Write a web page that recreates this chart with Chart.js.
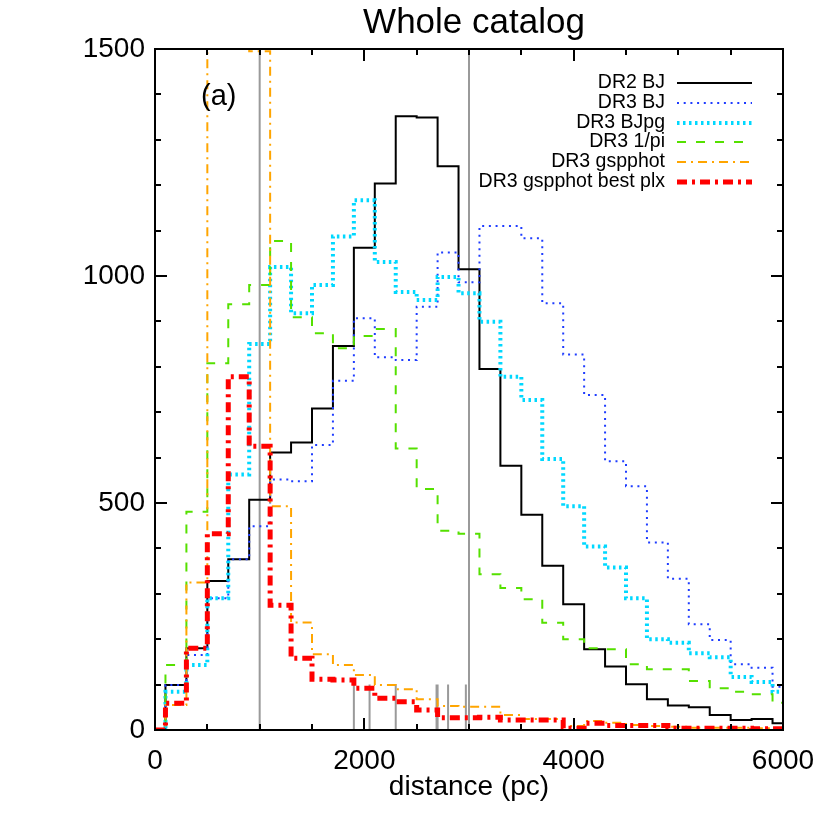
<!DOCTYPE html>
<html>
<head>
<meta charset="utf-8">
<title>Whole catalog</title>
<script src="https://cdn.jsdelivr.net/npm/chart.js@4/dist/chart.umd.min.js"></script>
<style>
  html, body { margin: 0; padding: 0; background: #fff; }
  #wrap { width: 830px; height: 830px; }
</style>
</head>
<body>
<div id="wrap"><canvas id="chart" width="830" height="830"></canvas></div>
<script>
// bin centres (pc), 200 pc wide bins
const binCenters = [0, 200, 400, 600, 800, 1000, 1200, 1400, 1600, 1800, 2000,
    2200, 2400, 2600, 2800, 3000, 3200, 3400, 3600, 3800, 4000,
    4200, 4400, 4600, 4800, 5000, 5200, 5400, 5600, 5800, 6000];

const dr2BJ = [0, 99, 180, 328, 376, 507, 611, 633, 708, 846, 1062,
    1204, 1352, 1349, 1242, 1015, 795, 582, 474, 362, 277,
    178, 140, 101, 68, 54, 50, 33, 22, 24, 15];

const dr3BJ = [0, 99, 165, 290, 376, 449, 552, 548, 628, 769, 907,
    821, 815, 932, 1052, 986, 1110, 1110, 1083, 940, 827,
    738, 592, 537, 413, 333, 233, 198, 145, 137, 95];

const dr3BJpg = [0, 84, 143, 290, 563, 850, 1020, 918, 980, 1087, 1167,
    1031, 965, 947, 998, 962, 899, 778, 727, 597, 493,
    404, 358, 290, 200, 192, 169, 160, 117, 106, 84];

const dr3InvPi = [0, 143, 481, 808, 938, 980, 1077, 909, 874, 841, 868,
    883, 620, 531, 439, 432, 343, 313, 288, 236, 200,
    180, 178, 145, 134, 134, 108, 92, 84, 79, 60];

// bins 600 and 800 run off the top of the plot
const dr3Gspphot = [0, 55, 325, 2500, 2500, 1495, 493, 237, 167, 143, 121,
    99, 90, 68, 53, 51, 51, 33, 24, 24, 9,
    20, 16, 11, 9, 7, 5, 5, 5, 4, 4];

const dr3GspphotBest = [0, 59, 180, 432, 778, 625, 275, 158, 112, 110, 92,
    70, 62, 44, 27, 27, 28, 22, 22, 22, 4,
    15, 10, 10, 10, 4, 4, 4, 4, 3, 3];

const seriesNames = ['DR2 BJ', 'DR3 BJ', 'DR3 BJpg', 'DR3 1/pi', 'DR3 gspphot', 'DR3 gspphot best plx'];

// grey reference marks
const fullLineX = [1000, 3000];
const shortMarkX = [1900, 2050, 2300, 2690, 2700, 2800, 2970];
const shortMarkTop = 100;

const xMin = 0, xMax = 6000, yMin = 0, yMax = 1500;

const FONT = '"Liberation Sans", Arial, Helvetica, sans-serif';

function toPoints(values) {
    return binCenters.map((x, i) => ({ x: x, y: values[i] }));
}

function verticalMarks(xs, top) {
    const pts = [];
    for (const x of xs) {
        pts.push({ x: x, y: 0 }, { x: x, y: top }, { x: x, y: null });
    }
    return pts;
}

function histo(label, values, color, width, dash, order) {
    return {
        label: label,
        data: toPoints(values),
        borderColor: color,
        backgroundColor: color,
        borderWidth: width,
        borderDash: dash,
        stepped: 'middle',
        pointRadius: 0,
        fill: false,
        order: order,
    };
}

const datasets = [
    histo(seriesNames[5], dr3GspphotBest, '#ff0000', 5, [10, 5, 3, 5], 0),
    histo(seriesNames[4], dr3Gspphot, '#ffa500', 2, [9, 5, 2, 5], 1),
    histo(seriesNames[3], dr3InvPi, '#55e000', 2, [9, 10], 2),
    histo(seriesNames[2], dr3BJpg, '#00d8ff', 4, [2.5, 3.5], 3),
    histo(seriesNames[1], dr3BJ, '#1e3cff', 2, [2, 4.7], 4),
    histo(seriesNames[0], dr2BJ, '#000000', 2, [], 5),
    {
        label: 'marks',
        data: verticalMarks(fullLineX, yMax).concat(verticalMarks(shortMarkX, shortMarkTop)),
        borderColor: '#9a9a9a',
        borderWidth: 2,
        pointRadius: 0,
        spanGaps: false,
        order: 6,
    },
];

// frame with inward ticks on all four sides, title, panel tag and legend
const decorations = {
    id: 'decorations',
    afterDatasetsDraw(chart) {
        const { ctx, chartArea: a, scales: { x, y } } = chart;
        ctx.save();
        ctx.strokeStyle = '#000';
        ctx.lineWidth = 2;
        ctx.setLineDash([]);
        ctx.strokeRect(a.left, a.top, a.right - a.left, a.bottom - a.top);
        ctx.beginPath();
        for (const t of x.ticks) {
            if (t.value <= xMin || t.value >= xMax) continue;
            const px = Math.round(x.getPixelForValue(t.value));
            const len = t.value % 2000 === 0 ? 12 : 6;
            ctx.moveTo(px, a.bottom); ctx.lineTo(px, a.bottom - len);
            ctx.moveTo(px, a.top); ctx.lineTo(px, a.top + len);
        }
        for (const t of y.ticks) {
            if (t.value <= yMin || t.value >= yMax) continue;
            const py = Math.round(y.getPixelForValue(t.value));
            const len = t.value % 500 === 0 ? 12 : 6;
            ctx.moveTo(a.left, py); ctx.lineTo(a.left + len, py);
            ctx.moveTo(a.right, py); ctx.lineTo(a.right - len, py);
        }
        ctx.stroke();
        ctx.restore();
    },
    afterDraw(chart) {
        const { ctx } = chart;
        ctx.save();
        ctx.fillStyle = '#000';
        ctx.textAlign = 'center';
        ctx.textBaseline = 'alphabetic';
        ctx.font = '35px ' + FONT;
        ctx.fillText('Whole catalog', 474, 33);

        ctx.textAlign = 'left';
        ctx.font = '29px ' + FONT;
        ctx.fillText('(a)', 201, 105);

        // legend: right-aligned names with line samples to the right
        const rowY = [83, 103, 123, 142, 162, 182];
        ctx.font = '19.5px ' + FONT;
        ctx.textAlign = 'right';
        ctx.textBaseline = 'middle';
        seriesNames.forEach((name, i) => {
            const ds = chart.data.datasets.find(d => d.label === name);
            const yy = rowY[i];
            ctx.fillStyle = '#000';
            ctx.fillText(name, 665, yy);
            ctx.beginPath();
            ctx.strokeStyle = ds.borderColor;
            ctx.lineWidth = ds.borderWidth;
            ctx.setLineDash(ds.borderDash);
            ctx.moveTo(677, yy);
            ctx.lineTo(752, yy);
            ctx.stroke();
        });
        ctx.restore();
    },
};

new Chart(document.getElementById('chart'), {
    type: 'line',
    data: { datasets: datasets },
    options: {
        responsive: false,
        animation: false,
        events: [],
        layout: { padding: { left: 0, right: 47, top: 49, bottom: 0 } },
        plugins: {
            legend: { display: false },
            title: { display: false },
            tooltip: { enabled: false },
        },
        scales: {
            x: {
                type: 'linear',
                min: xMin,
                max: xMax,
                grid: { display: false, drawTicks: false },
                border: { display: false },
                ticks: {
                    stepSize: 500,
                    autoSkip: false,
                    maxRotation: 0,
                    padding: 14,
                    color: '#000',
                    font: { family: FONT, size: 28 },
                    callback: v => (v % 2000 === 0 ? String(v) : ''),
                },
                title: {
                    display: true,
                    text: 'distance (pc)',
                    color: '#000',
                    font: { family: FONT, size: 28 },
                    padding: { top: 0, bottom: 26 },
                },
                afterFit(scale) { scale.height = 100; },
            },
            y: {
                min: yMin,
                max: yMax,
                grid: { display: false, drawTicks: false },
                border: { display: false },
                ticks: {
                    stepSize: 100,
                    autoSkip: false,
                    padding: 10,
                    color: '#000',
                    font: { family: FONT, size: 28 },
                    callback: v => (v % 500 === 0 ? String(v) : ''),
                },
                afterFit(scale) { scale.width = 155; },
            },
        },
    },
    plugins: [decorations],
});
</script>
</body>
</html>
